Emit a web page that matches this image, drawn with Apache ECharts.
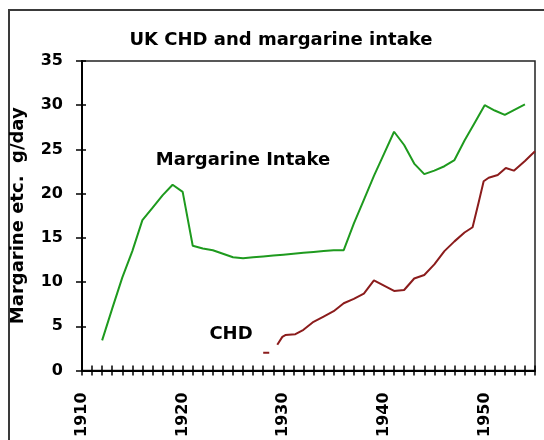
<!DOCTYPE html>
<html>
<head>
<meta charset="utf-8">
<script src="https://cdn.jsdelivr.net/npm/echarts@6/dist/echarts.min.js"></script>
<style>
    html, body { margin: 0; padding: 0; background: #fff; }
    #chart { width: 544px; height: 440px; }
</style>
</head>
<body>
<div id="chart"></div>
<script>
// margarine intake, g/day
var margYears = [1912, 1913, 1914, 1915, 1916, 1917, 1918, 1919, 1920, 1921, 1922, 1923, 1924, 1925,
    1926, 1927, 1928, 1929, 1930, 1931, 1932, 1933, 1934, 1935, 1936, 1937, 1938, 1939, 1940, 1941,
    1942, 1943, 1944, 1945, 1946, 1947, 1948, 1949, 1950, 1951, 1952, 1953, 1954];
var margValues = [3.4, 7.0, 10.5, 13.5, 17.0, 18.4, 19.8, 21.0, 20.2, 14.1, 13.8, 13.6, 13.2, 12.8,
    12.7, 12.8, 12.9, 13.0, 13.1, 13.2, 13.3, 13.4, 13.5, 13.6, 13.6, 16.6, 19.3, 22.0, 24.5, 27.0,
    25.5, 23.4, 22.2, 22.6, 23.1, 23.8, 26.0, 28.0, 30.0, 29.4, 28.9, 29.5, 30.1];

// CHD (same scale), null = gap in the line
var chdYears = [1928, 1928.6, 1929, 1929.4, 1929.9, 1930.2, 1931.2, 1932, 1933, 1934, 1935, 1936,
    1937, 1938, 1939, 1940, 1941, 1942, 1943, 1944, 1945, 1946, 1947, 1948, 1948.8, 1949.4, 1949.9,
    1950.4, 1951.3, 1952.1, 1952.9, 1954, 1955];
var chdValues = [2.0, 2.0, null, 2.9, 3.8, 4.0, 4.1, 4.6, 5.5, 6.1, 6.7, 7.6,
    8.1, 8.7, 10.2, 9.6, 9.0, 9.1, 10.4, 10.8, 12.0, 13.5, 14.6, 15.6, 16.2, 19.0, 21.4,
    21.8, 22.1, 22.9, 22.6, 23.7, 24.8];

var yearTicks = [1910, 1920, 1930, 1940, 1950];

var chart = echarts.init(document.getElementById('chart'));

function pairs(xs, ys) {
    return xs.map(function (x, i) {
        return [x, ys[i]];
    });
}

var boldFont = 'DejaVu Sans';

var option = {
    backgroundColor: '#fff',
    animation: false,
    grid: {
        left: 82, top: 61, right: 9, bottom: 68,
        show: true, borderColor: '#222', borderWidth: 1.5
    },
    xAxis: [{
        type: 'value', min: 1910, max: 1955, interval: 1,
        axisLine: { lineStyle: { color: '#000', width: 2 } },
        axisTick: { length: 5, lineStyle: { color: '#000', width: 1.5 } },
        splitLine: { show: false },
        axisLabel: {
            rotate: 90, margin: 22, color: '#000',
            fontFamily: boldFont, fontWeight: 'bold', fontSize: 16,
            formatter: function (v) {
                return yearTicks.indexOf(v) >= 0 ? String(v) : '';
            }
        }
    }, {
        // upper half of the crossing ticks
        type: 'value', min: 1910, max: 1955, interval: 1, position: 'bottom',
        axisLine: { show: false },
        axisTick: { show: true, inside: true, length: 5, lineStyle: { color: '#000', width: 1.5 } },
        axisLabel: { show: false },
        splitLine: { show: false }
    }],
    yAxis: [{
        type: 'value', min: 0, max: 35, interval: 5,
        name: 'Margarine etc.  g/day',
        nameLocation: 'middle', nameRotate: 90, nameGap: 55,
        nameTextStyle: { fontFamily: boldFont, fontWeight: 'bold', fontSize: 18, color: '#000' },
        axisLine: { show: true, lineStyle: { color: '#000', width: 2 } },
        axisTick: { show: true, length: 6, lineStyle: { color: '#000', width: 1.5 } },
        splitLine: { show: false },
        axisLabel: {
            margin: 19, color: '#000',
            fontFamily: boldFont, fontWeight: 'bold', fontSize: 16
        }
    }, {
        type: 'value', min: 0, max: 35, interval: 5, position: 'left',
        axisLine: { show: false },
        axisTick: { show: true, inside: true, length: 4, lineStyle: { color: '#000', width: 1.5 } },
        axisLabel: { show: false },
        splitLine: { show: false }
    }],
    graphic: [{
        type: 'rect',
        shape: { x: 9, y: 10, width: 600, height: 500 },
        style: { fill: null, stroke: '#3a3a3a', lineWidth: 2 },
        silent: true
    }, {
        type: 'text', x: 281, y: 40,
        style: {
            text: 'UK CHD and margarine intake', align: 'center', verticalAlign: 'middle',
            font: 'bold 18px "DejaVu Sans"', fill: '#000'
        }
    }, {
        type: 'text', x: 243, y: 160,
        style: {
            text: 'Margarine Intake', align: 'center', verticalAlign: 'middle',
            font: 'bold 18px "DejaVu Sans"', fill: '#000'
        }
    }, {
        type: 'text', x: 231, y: 334,
        style: {
            text: 'CHD', align: 'center', verticalAlign: 'middle',
            font: 'bold 18px "DejaVu Sans"', fill: '#000'
        }
    }],
    series: [{
        name: 'Margarine', type: 'line',
        data: pairs(margYears, margValues),
        showSymbol: false,
        lineStyle: { color: '#1e9a1e', width: 2 }
    }, {
        name: 'CHD', type: 'line',
        data: pairs(chdYears, chdValues),
        showSymbol: false,
        connectNulls: false,
        lineStyle: { color: '#8b1c1c', width: 2 }
    }]
};

chart.setOption(option);
</script>
</body>
</html>
